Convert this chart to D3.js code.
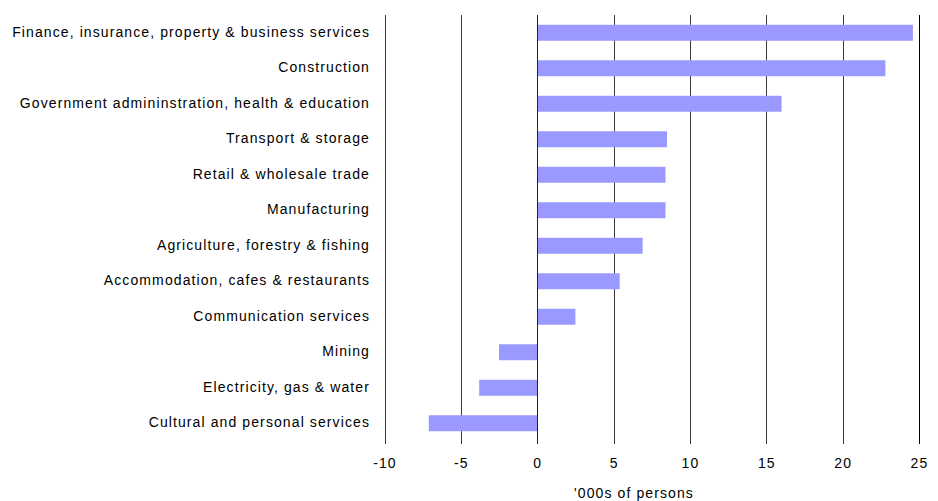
<!DOCTYPE html>
<html><head><meta charset="utf-8">
<script src="https://cdn.jsdelivr.net/npm/d3@7/dist/d3.min.js"></script>
<style>body{margin:0;background:#fff}svg{display:block}text{font-family:"Liberation Sans",Arial,sans-serif;letter-spacing:1.1px}</style>
</head><body>
<svg id="c" width="938" height="501"></svg>
<script>
const categories = ["Finance, insurance, property & business services","Construction","Government admininstration, health & education","Transport & storage","Retail & wholesale trade","Manufacturing","Agriculture, forestry & fishing","Accommodation, cafes & restaurants","Communication services","Mining","Electricity, gas & water","Cultural and personal services"];
const values = [24.6,22.8,16.0,8.5,8.4,8.4,6.9,5.4,2.5,-2.5,-3.8,-7.1];
const xTicks = [-10,-5,0,5,10,15,20,25];
const xTitle = "'000s of persons";

(function(){
const svg = d3.select("#c");
const pl = 384.5, pr = 919, pt = 15, pb = 441;
const x = d3.scaleLinear().domain([-10,25]).range([pl,pr]);
const y = d3.scaleBand().domain(categories).range([pt,pb]).paddingInner(0.55).paddingOuter(0.275);

svg.append("g").selectAll("line").data(xTicks).join("line")
  .attr("x1",d=>Math.round(x(d))+0.5).attr("x2",d=>Math.round(x(d))+0.5)
  .attr("y1",pt).attr("y2",pb+3)
  .attr("stroke",d=>d===25?"#000":"#3a3a3a").attr("stroke-width",1);

svg.append("g").selectAll("rect").data(values).join("rect")
  .attr("x",d=>x(Math.min(0,d))).attr("width",d=>Math.abs(x(d)-x(0)))
  .attr("y",(d,i)=>y(categories[i])).attr("height",y.bandwidth())
  .attr("fill","#9999ff");

svg.append("line").attr("x1",Math.round(x(0))+0.5).attr("x2",Math.round(x(0))+0.5)
  .attr("y1",pt).attr("y2",pb+3).attr("stroke","#222");

svg.append("g").selectAll("text").data(categories).join("text")
  .attr("x",370).attr("y",d=>y(d)+y.bandwidth()/2).attr("dy","0.28em")
  .attr("text-anchor","end").attr("font-size",14).attr("fill","#000").text(d=>d);

svg.append("g").selectAll("text").data(xTicks).join("text")
  .attr("x",d=>x(d)+0.5).attr("y",468).attr("text-anchor","middle")
  .attr("font-size",14).attr("fill","#000").text(d=>d);

svg.append("text").attr("x",634).attr("y",498).attr("text-anchor","middle")
  .attr("font-size",14).attr("fill","#000").text(xTitle);
})();
</script>
</body></html>
